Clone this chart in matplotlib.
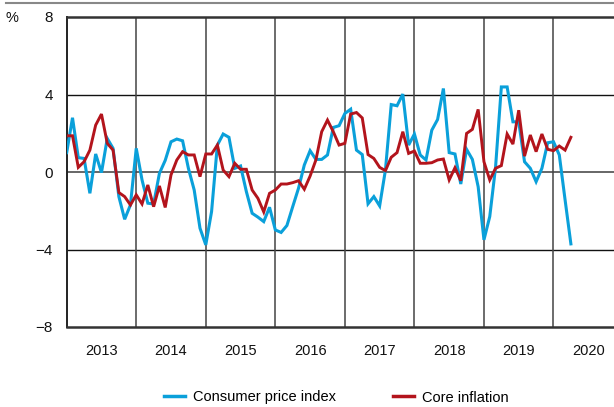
import matplotlib
matplotlib.use("Agg")
import matplotlib.pyplot as plt
from matplotlib.lines import Line2D
import numpy as np

plt.rcParams['font.family'] = ['Liberation Sans Narrow', 'Liberation Sans', 'DejaVu Sans']

# Monthly data, Jan 2013 - Apr 2020
start_year = 2013
cpi = [1.0, 2.8, 0.74, 0.7, -1.1, 0.93, -0.03, 1.73, 1.22, -1.27, -2.44, -1.7,
       1.22, -0.41, -1.61, -1.65, -0.07, 0.6, 1.56, 1.7, 1.61, 0.19, -0.93, -2.9,
       -3.76, -2.04, 1.39, 1.96, 1.79, 0.19, 0.31, -1.01, -2.13, -2.33, -2.56, -1.82,
       -2.99, -3.12, -2.76, -1.79, -0.84, 0.36, 1.1, 0.65, 0.65, 0.88, 2.3, 2.39,
       3.02, 3.24, 1.13, 0.9, -1.64, -1.27, -1.75, 0.1, 3.48, 3.42, 4.02, 1.39,
       1.96, 0.88, 0.62, 2.16, 2.71, 4.31, 1.0, 0.93, -0.62, 1.17, 0.65, -0.76,
       -3.5, -2.3, 0.24, 4.39, 4.39, 2.59, 2.59, 0.53, 0.19, -0.5, 0.19, 1.51,
       1.56, 0.88, -1.44, -3.71]
core = [1.87, 1.87, 0.24, 0.53, 1.13, 2.42, 2.99, 1.48, 1.13, -1.06, -1.27, -1.7,
        -1.18, -1.65, -0.67, -1.79, -0.72, -1.83, -0.15, 0.62, 1.05, 0.88, 0.88, -0.24,
        0.93, 0.93, 1.39, 0.1, -0.24, 0.45, 0.14, 0.14, -0.93, -1.36, -2.06, -1.1,
        -0.93, -0.62, -0.62, -0.55, -0.45, -0.89, -0.21, 0.62, 2.08, 2.68, 2.08, 1.39,
        1.48, 2.99, 3.07, 2.79, 0.9, 0.7, 0.24, 0.07, 0.76, 1.0, 2.08, 0.96,
        1.08, 0.45, 0.45, 0.48, 0.62, 0.67, -0.41, 0.22, -0.45, 1.99, 2.2, 3.23,
        0.53, -0.41, 0.19, 0.33, 1.96, 1.44, 3.19, 0.82, 1.91, 1.05, 1.96, 1.17,
        1.1, 1.34, 1.13, 1.79]
years = [2013, 2014, 2015, 2016, 2017, 2018, 2019, 2020]
yticks = [-8, -4, 0, 4, 8]
ytick_labels = ['\u22128', '\u22124', '0', '4', '8']
series_names = ['Consumer price index', 'Core inflation']
colors = ['#0AA0DA', '#B3141C']

t = start_year + np.arange(len(cpi)) / 12.0

fs = 10.5

fig = plt.figure(figsize=(6.14, 4.07), dpi=100)
ax = fig.add_axes([66.7/614, 1-327/407, 1-66.7/614, (327-17)/407])

ax.set_xlim(2013.0, 2020.87)
ax.set_ylim(-8, 8)

# grid
for yv in [-4, 4]:
    ax.axhline(yv, color='#111111', lw=1.0, zorder=1)
ax.axhline(0, color='#666666', lw=1.4, zorder=1)
for yr in years[1:]:
    ax.axvline(yr, color='#444444', lw=1.1, zorder=1)

ax.plot(t, cpi, color=colors[0], lw=2.2, label=series_names[0], zorder=3, solid_joinstyle='miter')
ax.plot(t, core, color=colors[1], lw=2.1, label=series_names[1], zorder=4, solid_joinstyle='miter')

ax.spines['right'].set_visible(False)
ax.spines['top'].set_color('#333333')
ax.spines['top'].set_linewidth(1.8)
ax.spines['bottom'].set_color('#333333')
ax.spines['bottom'].set_linewidth(1.8)
ax.spines['left'].set_color('#222222')
ax.spines['left'].set_linewidth(1.4)

ax.set_yticks(yticks)
ax.set_yticklabels(ytick_labels, fontsize=fs + 0.5, color='#111111')
ax.set_xticks([y + 0.5 for y in years])
ax.set_xticklabels([str(y) for y in years], fontsize=fs, color='#111111')
ax.tick_params(axis='y', length=0, pad=10)
ax.tick_params(axis='x', length=0, pad=12)

fig.text(6/614, 1-18/407, '%', fontsize=fs, ha='left', va='center', color='#111111')

fig.add_artist(Line2D([6/614, 1.0], [1-2.5/407, 1-2.5/407], color='#888888', lw=1.5))

handles = [Line2D([], [], color=colors[0], lw=2.5), Line2D([], [], color=colors[1], lw=2.5)]
fig.legend(handles, series_names, loc='center', bbox_to_anchor=(336/614, 1-397.5/407),
           ncol=2, frameon=False, fontsize=fs, handlelength=1.45, handletextpad=0.55,
           columnspacing=3.9, borderaxespad=0, borderpad=0)

fig.savefig('out.png', dpi=100)
